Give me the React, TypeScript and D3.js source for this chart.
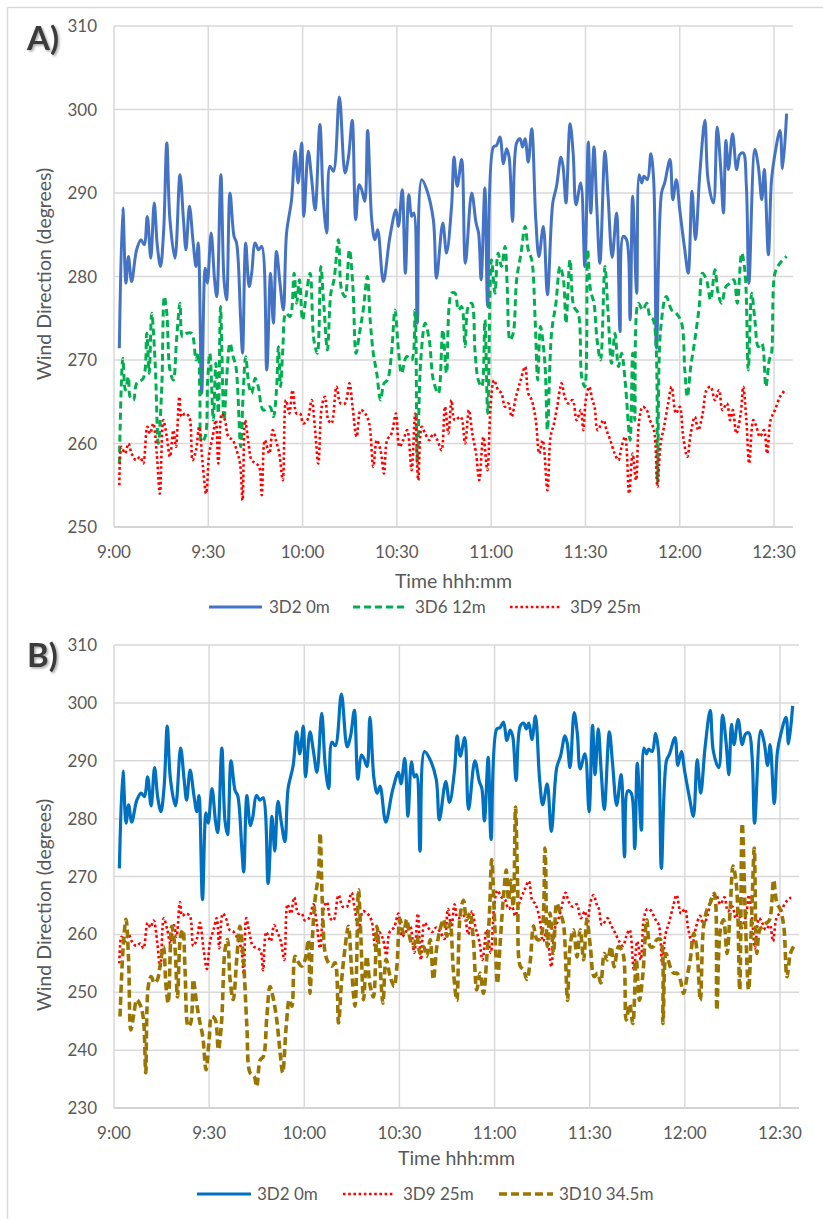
import React from 'react';
import * as d3 from 'd3';

type Pt = [number, number];

// minutes after 9:00
const tickMinutes = [0, 30, 60, 90, 120, 150, 180, 210];
const tickLabels = ['9:00', '9:30', '10:00', '10:30', '11:00', '11:30', '12:00', '12:30'];
const yTicksA = [250, 260, 270, 280, 290, 300, 310];
const yTicksB = [230, 240, 250, 260, 270, 280, 290, 300, 310];

const s3D2: Pt[] = [[1.7,271.4],[2.8,288.2],[3.8,279.2],[4.6,282.4],[5.6,279.4],[7.2,283.2],[8.6,284.4],[9.6,283.8],[10.6,287.2],[11.7,282.2],[12.8,288.8],[13.8,283.6],[14.8,281.2],[15.8,285.5],[16.8,296],[17.8,286.8],[19.4,282.2],[21,292.2],[22.1,286.8],[22.9,283.2],[24,288.4],[25.2,284],[26.1,281.2],[26.8,284],[27.9,266],[29,281],[29.7,279.2],[30.9,285.2],[32,279.6],[32.7,277.6],[34,292.2],[35,279.6],[35.8,277.2],[36.9,290],[38.2,284.8],[39,284],[40.3,274.8],[40.9,270.8],[41.9,284],[43,278.8],[43.8,280.4],[44.9,284],[46,283.2],[47,283.6],[48.6,268.8],[49.8,280.4],[50.7,274.4],[51.7,283],[52.8,279.2],[53.9,276],[54.9,285.2],[56.5,289.2],[57.6,295],[58.6,291.2],[59.7,296],[60.4,287.2],[61.8,295],[62.9,291.6],[64,288],[65.5,298.2],[66.6,289.2],[67.7,285.2],[68.7,293.2],[69.8,292.6],[71.7,301.5],[73.5,292.4],[74.6,294.3],[75.8,298.7],[76.9,286.8],[78,291],[78.8,290.4],[79.8,289],[80.7,297.5],[82,286.8],[83,284.4],[83.9,285.6],[85.7,279.4],[87.8,284.8],[89.7,288],[90.5,286],[91.7,290.4],[92.7,280.4],[93.8,289.8],[94.7,287.2],[95.4,287.6],[96.5,274.4],[97.9,291.6],[99.5,290.4],[101.6,286.8],[102.6,279.8],[104.6,286.4],[105.8,282.8],[107.4,288.4],[108.2,294.3],[109.2,290.8],[110.6,294],[111.8,281.6],[113.8,290],[115.2,286.4],[116,285.2],[116.8,279.6],[118,290.6],[118.9,276.4],[120.7,295.5],[121.7,295.7],[122.8,296.7],[123.9,293.5],[124.9,295.3],[125.7,294.3],[126.8,286.6],[128.1,296],[129.2,296.5],[130,295.5],[130.8,296.5],[131.8,293.7],[132.9,297.7],[134.2,286.8],[135.2,282.4],[136.6,286],[137.9,277.8],[139.6,288.8],[140.8,290.8],[142.2,294.3],[142.9,293.1],[143.8,288.8],[145.1,298.3],[146.1,294.7],[147,288.6],[148.5,291.2],[149.8,281.2],[150.9,296.1],[151.7,287.6],[152.7,295.5],[153.6,288.4],[154.6,281.6],[156.2,295],[157.2,289.6],[158.5,282.3],[159.9,287.6],[161,273.4],[162,284.8],[163.1,284.4],[164.2,274.8],[165,289.6],[166.3,278],[167.1,292.2],[167.9,291.2],[168.6,292],[169.7,291.6],[170.8,294.7],[171.7,291.6],[172.6,271.4],[174.2,290],[175.2,291.2],[176.9,294],[177.8,289.2],[178.9,291.6],[180,288],[181.6,283.2],[182.7,280.4],[183.9,290.2],[185,284.4],[186.4,292.4],[188,298.7],[189,291.6],[190.7,288.8],[191.9,297.9],[193,293.2],[193.9,287.6],[194.7,296.3],[195.5,292.8],[196.8,297.1],[198.1,292.8],[199.1,294.6],[200.2,294.8],[201.2,290.8],[202,279.2],[203.9,295.2],[205,293.2],[206.1,289.2],[206.9,292.8],[208.2,282.6],[209.2,291.6],[210.3,294.7],[211.9,297.5],[212.7,292.9],[214,299.5]];

const s3D6: Pt[] = [[1.7,257.6],[2.8,270.2],[3.6,266.4],[4.6,268],[5.1,265.6],[6.2,265.2],[7.2,267.2],[9.3,267.8],[10.4,273.2],[11.2,268.4],[12,275.6],[13.1,269.6],[14.1,260],[15.2,266.8],[16,277.6],[16.8,275.6],[17.8,268.8],[18.9,267.6],[19.9,272.4],[21,276.8],[21.8,272.8],[23.1,273.2],[24.7,273.2],[26.1,270],[26.8,270.8],[27.3,266],[27.9,260.2],[29,260.8],[29.8,267.6],[30.5,270.8],[31.6,262.8],[32.4,269.6],[33.2,263.6],[33.9,276.4],[35,262.8],[35.8,267.6],[36.9,272],[37.9,270.4],[38.8,269.2],[40.3,259.6],[41.1,266],[41.9,270.4],[43,266.8],[43.8,266],[44.9,267.8],[45.9,266.8],[47.5,264],[49.6,264.4],[50.7,263.2],[51.7,266.4],[52.3,271.6],[53,266.8],[53.7,271.2],[54.7,275.6],[56,275.2],[57.3,280.4],[58.1,276.8],[59,279.6],[60,274.8],[61.1,277.6],[62.4,280.4],[63.6,272.4],[64.7,270.8],[65.8,281.2],[66.8,276.4],[67.9,271.2],[69,278],[70,279.6],[71.4,284.4],[72.4,278.4],[73.5,277.6],[74.9,283.2],[76,278.8],[77,270.8],[78.1,273.2],[79.3,276],[80.6,280],[81.5,274.8],[82.5,270.8],[83.6,268.4],[84.8,265.2],[85.9,267.2],[87,267.6],[88.3,270.8],[89.4,276],[90.5,271.2],[91.5,268.4],[93.1,270.4],[94.7,270],[95.8,276],[96.5,257.6],[97.6,270],[99,274.4],[100.3,272.4],[101.6,267.6],[103.2,266],[104.6,273.6],[105.8,268.4],[107.4,278],[108.5,278],[109.6,276],[110.6,276.4],[111.7,271.6],[112.7,276.4],[113.8,276.8],[114.9,270.8],[115.9,267.6],[117,266.8],[118,274.8],[118.9,263.6],[120.1,282],[121.2,278],[122.2,282.8],[123.3,281.2],[124.4,283.6],[125.1,278.8],[126,272.4],[127,273.2],[128.1,279.6],[129.5,282.8],[130.8,286],[131.8,283.2],[132.9,282],[134,274.8],[134.8,267.6],[135.7,274],[137.1,269.6],[137.9,261.6],[139.2,273.2],[140.6,276.8],[141.9,281.2],[143,279.6],[143.8,274.4],[145.1,282],[146.3,276.4],[147.7,275.6],[148.8,268],[149.8,266.8],[150.7,283.2],[151.6,278.4],[152.7,276.8],[153.7,272.4],[154.8,270],[156.2,281.2],[157.2,275.6],[158.3,269.6],[159.4,273.2],[160.5,269.2],[161.5,270.8],[162.6,267.6],[164.2,260.4],[165,270.8],[165.7,262.8],[166.8,276.8],[168.2,276],[169.5,276.8],[170.5,275.2],[171.6,274.8],[172.9,255.2],[173.9,273.6],[175.7,277.6],[177.4,276],[178.9,275.6],[180.6,274.4],[181.6,268.8],[182.4,265.6],[183.5,269.2],[184.8,272.4],[186.2,276.4],[187.2,280.4],[188.5,279.6],[189.8,277.2],[191.2,280.8],[192.2,278],[193.3,276.8],[194.7,278.8],[196,279.2],[197.2,279.6],[198.3,276.8],[199.7,282.8],[200.8,280.4],[201.8,268.8],[202.9,278],[203.9,274.8],[205,271.6],[206.1,272],[207.4,266.8],[208.5,270],[209.2,270.8],[210.3,280.4],[211.9,281.6],[214,282.4]];

const s3D9: Pt[] = [[1.7,255],[2.4,259.6],[3.5,258.8],[4.6,260],[5.6,258.8],[7,258],[8.3,258.4],[9.3,257.6],[10.6,262],[11.5,261.2],[12.5,262.4],[13.6,258.8],[14.6,254],[15.7,262.8],[16.8,260.8],[17.8,258.4],[18.9,261.6],[19.7,259.6],[20.8,265.6],[21.5,263.2],[22.6,263.6],[23.9,263.2],[25,258],[26.1,259.2],[27.1,262],[28.2,257.6],[29.3,254],[30.3,258.8],[31.4,260.8],[32.4,262.8],[33.2,257.6],[34.3,263.6],[35.3,262.8],[36.4,260.8],[37.8,260.4],[39,259.2],[40.1,257.6],[40.9,253.2],[41.7,262.8],[42.8,260],[43.8,258],[45.2,257.6],[46.2,257.2],[47,253.8],[48,260.4],[49.4,258.8],[50.5,261.6],[51.5,260.4],[52.6,258.8],[53.7,255.6],[54.7,265.2],[55.8,263.6],[56.8,266.4],[58.1,263.6],[59.2,263.6],[60.2,262.4],[61.5,262.8],[62.9,265.2],[63.9,262],[65,257.6],[66.1,264.4],[67.1,265.6],[68.2,262.8],[69.2,262.4],[70.8,266.8],[72.1,264.8],[73.5,264.8],[74.9,267.2],[75.9,264.4],[77.2,260.8],[78.5,264],[79.9,263.6],[81.2,262.4],[82.5,257.2],[83.6,260.4],[84.8,259.2],[85.9,256.4],[86.9,260.4],[88.3,261.2],[89.7,263.6],[90.8,259.6],[92,260.4],[93.3,261.6],[94.7,256.8],[95.8,263.6],[96.8,255.6],[97.9,262],[99,261.2],[100.3,260.4],[101.6,261.2],[102.9,260.4],[104.2,259.2],[105.3,264.4],[106.4,261.2],[107.4,265.2],[108.4,262.8],[110.3,263.2],[111.7,260],[112.9,264],[114,261.2],[115.2,258.8],[116.2,255.6],[117.5,260.8],[118.8,256.8],[119.8,264.4],[120.9,267.6],[122.2,266.4],[123.3,266],[124.4,264.4],[125.5,264.8],[126.5,263.2],[127.9,265.6],[129.4,267.6],[130.8,269.2],[131.8,266],[132.9,265.2],[134.2,262.8],[135.3,258.8],[136.4,260.4],[137.9,254.4],[138.9,260.8],[140,262.4],[141,264.4],[142.4,267.2],[143.4,265.6],[144.5,264.8],[145.9,265.2],[147.2,262.8],[148.5,264],[149.3,261.6],[150.1,265.2],[151.2,266.8],[152.2,265.2],[152.9,264.4],[153.9,261.6],[155.7,262.8],[156.7,261.6],[157.9,260.4],[159.3,258.8],[160.5,258],[161.5,259.6],[162.6,260.8],[163.9,254],[165,258.8],[166.1,255.6],[167.1,262.8],[168.2,264.4],[169.5,264],[170.5,262.8],[171.8,261.6],[172.9,254.8],[173.9,260],[175,262],[176.3,264.8],[177.4,266.8],[178.8,263.6],[180,264.4],[181.1,260.8],[182.4,258.4],[183.5,261.2],[184.8,263.2],[185.9,261.6],[187.3,263.6],[188.5,266.4],[189.8,266.8],[191.2,265.2],[192.5,266.4],[193.6,264],[195,264.8],[196,262.8],[196.9,264],[198,261.2],[199.4,263.6],[200.2,266.8],[201.2,262.8],[202.1,257.6],[203.4,262.8],[204.4,262],[205.5,260.8],[206.8,261.6],[207.8,258.8],[208.9,262.8],[210.3,264],[211.9,265.6],[213.5,266.4]];

const s3D10: Pt[] = [[1.9,245.8],[2.9,257.9],[3.8,262.6],[4.6,255.7],[5.3,243.5],[6.3,246.4],[7.2,248.7],[8.4,247.6],[9.3,245.3],[10,236.1],[10.8,251],[11.7,252.7],[12.7,251.6],[13.7,252.2],[14.5,254.5],[15.6,257.9],[16.4,251],[17.1,248.1],[18.2,261.4],[19.2,257.9],[20,249.2],[21,259.7],[21.7,260.8],[22.4,253.9],[23.4,244.1],[24.2,244.7],[25,252.2],[25.9,248.7],[26.9,245.3],[28,242.3],[29,236.6],[30,241.8],[30.8,245.8],[31.9,245.3],[32.9,240.1],[33.9,244.7],[35,257.3],[35.8,259.1],[36.6,252.2],[37.6,248.7],[38.7,255.7],[39.7,261.4],[40.8,255.7],[41.9,244.1],[42.9,236.1],[44.2,235.5],[45,233.7],[46.1,238.3],[47.1,238.9],[48.2,245.8],[49.2,251],[50.3,248.7],[51.3,245.3],[52.4,239.5],[53.2,236.1],[54.3,244.1],[55.3,248.7],[56.1,247.6],[57.1,256.2],[58.2,255.1],[59.2,254.5],[60.3,255.7],[61.3,259.1],[61.8,249.8],[62.7,260.8],[63.4,266],[64.5,270.6],[65,277.5],[65.7,265.4],[66.6,256.7],[67.6,255.1],[68.7,254.5],[69.7,255.1],[70.8,244.7],[71.8,252.2],[72.9,257.9],[73.9,261.4],[75,253.3],[76,247.6],[77.1,267.7],[77.8,260.2],[78.7,248.7],[79.7,256.2],[80.8,251],[81.8,249.2],[82.9,261.4],[83.9,254.5],[84.8,248.1],[85.8,255.7],[87.1,252.7],[88.3,251],[89.2,254.5],[90.2,262.6],[91.3,260.2],[92.3,262.6],[93.4,259.1],[94.4,257.9],[95.5,259.7],[96.5,256.7],[97.6,257.9],[98.6,256.2],[99.7,259.1],[100.7,252.2],[101.8,257.9],[102.8,260.8],[103.9,262.6],[105,259.7],[106,262],[107,253.8],[108.1,248.6],[109.1,263],[110.2,265.9],[111.2,262.5],[112.3,263.7],[113.3,259.1],[114.4,250.4],[115.4,253.3],[116.5,249.8],[117.5,255.6],[118.4,263.7],[119.1,272.9],[120,262.5],[120.9,251.5],[121.7,257.9],[122.8,266.5],[123.7,271.1],[124.4,265.9],[125.1,269.4],[125.9,264.8],[126.6,282],[127.3,268],[128.1,254.5],[129.1,253.9],[130.2,252.2],[131.2,255.1],[132.3,261.5],[133.3,259.2],[134.4,259.2],[135.9,274.9],[136.6,257.9],[137.5,263.7],[138.6,256.7],[139.6,265.4],[140.7,263.7],[141.7,261.9],[143,248.6],[143.8,257.9],[144.9,260.8],[146,256.1],[147,260.8],[148.1,255.6],[149.1,262.5],[150.2,257.9],[151.4,252.7],[152.5,253.3],[153.5,251.6],[154.6,256.7],[155.6,255.6],[156.7,257.9],[157.7,254.4],[159.1,257.9],[160.5,256.7],[161.5,245.2],[162.6,248],[163.6,244.6],[164.7,255.6],[165.7,248.6],[166.8,253.3],[168,262.5],[169.1,257.9],[170.1,257.9],[171.2,259.1],[172.3,259.1],[173.1,244.6],[174.1,256.7],[175.4,254.4],[176.5,253.3],[177.5,253.3],[178.6,252.1],[179.6,249.8],[180.7,252.7],[181.7,255.6],[182.8,260.2],[183.8,257.3],[184.9,248.6],[185.9,261.4],[187,264.3],[188,265.4],[189.3,267.1],[190.1,246.9],[191.2,260.8],[192.2,262.5],[193.3,256.7],[194.3,264.3],[195.2,271.8],[196.3,268.3],[197.3,250.4],[198.1,279.2],[199.1,262.5],[200.1,250.4],[201.2,265.4],[201.9,274.9],[202.7,256.7],[203.6,260.8],[204.6,261.4],[205.6,261.9],[206.7,262.5],[208,269.4],[209,265.4],[210.1,264.3],[211.2,261.4],[212.2,252.7],[213.3,256.7],[214.3,257.9]];

const FONT = "Lato, 'Open Sans', sans-serif";
const TEXT = '#595959';
const GRID = '#d9d9d9';

interface SeriesSpec { name: string; data: Pt[]; color: string; width: number; dash?: string; legendDash?: string }
interface PanelProps {
  label: string; labelY: number;
  top: number; bottom: number; left: number; right: number;
  yDomain: [number, number]; yTicks: number[];
  series: SeriesSpec[];
  tickY: number; titleY: number; yTitleY: number;
  legendY: number; legendPos: [number, number, number][];
}

function Panel(p: PanelProps) {
  const x = d3.scaleLinear().domain([0, 216]).range([p.left, p.right]);
  const y = d3.scaleLinear().domain(p.yDomain).range([p.bottom, p.top]);
  const line = d3.line<Pt>().x(d => x(d[0])).y(d => y(d[1])).curve(d3.curveCatmullRom.alpha(0.5));
  return (
    <g>
      {p.yTicks.map(t => (
        <line key={'h' + t} x1={p.left} x2={p.right} y1={y(t)} y2={y(t)}
          stroke={t === p.yDomain[0] ? '#c4c4c4' : GRID} strokeWidth={1.5} />
      ))}
      {tickMinutes.map(m => (
        <line key={'v' + m} x1={x(m)} x2={x(m)} y1={p.top} y2={p.bottom} stroke={GRID} strokeWidth={1.5} />
      ))}
      {p.yTicks.map(t => (
        <text key={'yl' + t} x={p.left - 17} y={y(t) + 6} textAnchor="end" fontSize={17} fill={TEXT} fontFamily={FONT}>{t}</text>
      ))}
      {tickMinutes.map((m, i) => (
        <text key={'xl' + m} x={x(m)} y={p.tickY} textAnchor="middle" fontSize={17} fill={TEXT} fontFamily={FONT}>{tickLabels[i]}</text>
      ))}
      {p.series.map(s => (
        <path key={s.name} d={line(s.data) || ''} fill="none" stroke={s.color} strokeWidth={s.width}
          strokeDasharray={s.dash} strokeLinejoin="round" />
      ))}
      <text x={(p.left + p.right) / 2} y={p.titleY} textAnchor="middle" fontSize={19.5} fill={TEXT} fontFamily={FONT}>Time hhh:mm</text>
      <text transform={`translate(51,${p.yTitleY}) rotate(-90)`} textAnchor="middle" fontSize={19.5} fill={TEXT} fontFamily={FONT}>Wind Direction (degrees)</text>
      <text x={27} y={p.labelY} fontSize={33} fontWeight="bold" fill="#3b3b3b" fontFamily={FONT} filter="url(#shadow)">{p.label}</text>
      {p.series.map((s, i) => {
        const [a, b, tx] = p.legendPos[i];
        return (
          <g key={'lg' + s.name}>
            <line x1={a} x2={b} y1={p.legendY} y2={p.legendY} stroke={s.color} strokeWidth={s.width}
              strokeDasharray={s.legendDash ?? s.dash} />
            <text x={tx} y={p.legendY + 6} fontSize={17} fill={TEXT} fontFamily={FONT}>{s.name}</text>
          </g>
        );
      })}
    </g>
  );
}

export default function App() {
  const seriesA: SeriesSpec[] = [
    { name: '3D2 0m', data: s3D2, color: '#4472C4', width: 3 },
    { name: '3D6 12m', data: s3D6, color: '#00B050', width: 3, dash: '7 4' },
    { name: '3D9 25m', data: s3D9, color: '#FF0000', width: 2.6, dash: '2.6 2.6' },
  ];
  const seriesB: SeriesSpec[] = [
    { name: '3D2 0m', data: s3D2, color: '#0070C0', width: 3.2 },
    { name: '3D9 25m', data: s3D9, color: '#FF0000', width: 2.6, dash: '2.6 2.6' },
    { name: '3D10 34.5m', data: s3D10, color: '#9A7500', width: 3.6, dash: '8 4' },
  ];
  return (
    <div style={{ position: 'absolute', left: 0, top: 0 }}>
      <svg width={823} height={1219} style={{ display: 'block', background: '#fff' }}>
        <defs>
          <filter id="shadow" x="-20%" y="-20%" width="150%" height="150%">
            <feDropShadow dx="1.5" dy="1.5" stdDeviation="1.2" floodColor="#000" floodOpacity="0.35" />
          </filter>
        </defs>
        <rect x={0} y={0} width={823} height={1219} fill="#fff" />
        <line x1={7.5} x2={823} y1={7.5} y2={7.5} stroke={GRID} strokeWidth={1.5} />
        <line x1={7.5} x2={7.5} y1={7.5} y2={1219} stroke={GRID} strokeWidth={1.5} />
        <Panel label="A)" labelY={50} top={26} bottom={527} left={114} right={792.9}
          yDomain={[250, 310]} yTicks={yTicksA} series={seriesA}
          tickY={558} titleY={588} yTitleY={274} legendY={607}
          legendPos={[[209, 262, 269], [353, 408, 415], [510, 560, 570]]} />
        <Panel label="B)" labelY={667} top={645} bottom={1108} left={114} right={799}
          yDomain={[230, 310]} yTicks={yTicksB} series={seriesB}
          tickY={1139} titleY={1165} yTitleY={905} legendY={1194}
          legendPos={[[197, 251, 257], [343, 393, 403], [499, 553, 559]]} />
      </svg>
    </div>
  );
}
